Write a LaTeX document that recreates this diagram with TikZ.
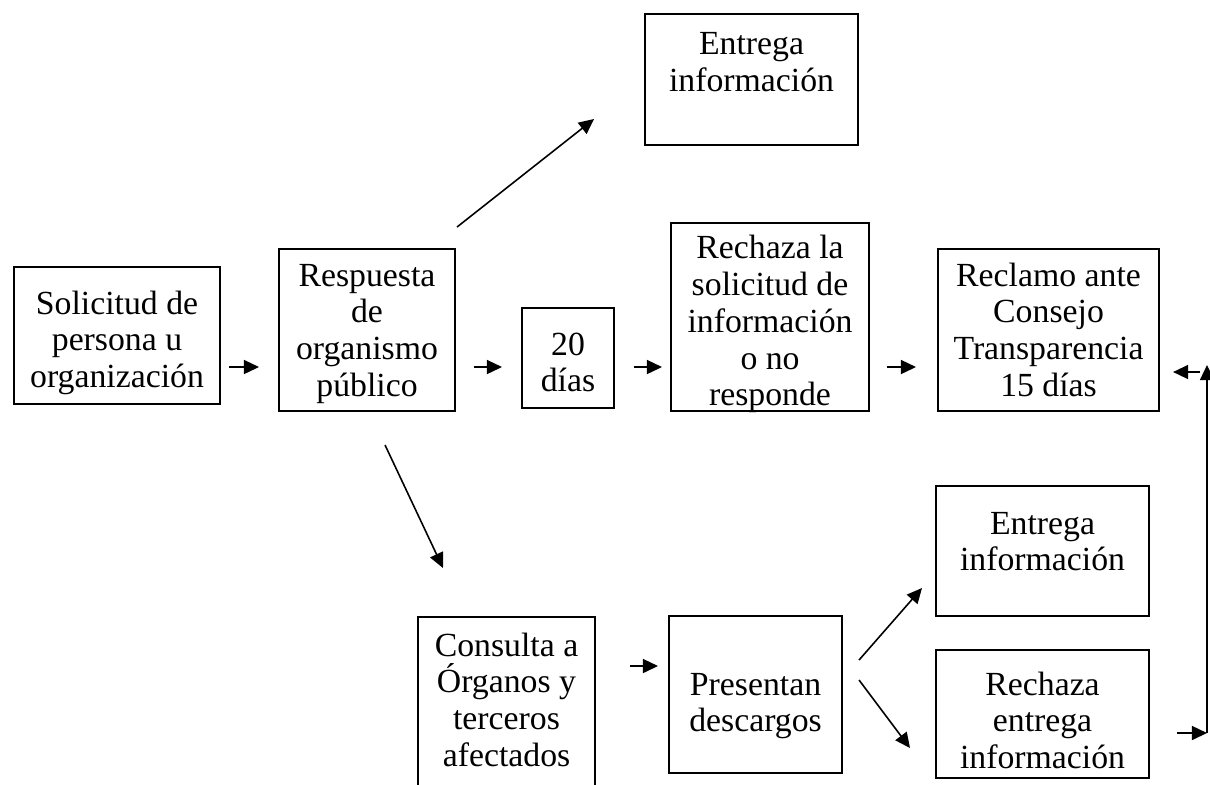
\documentclass[tikz,border=0pt]{standalone}
\usepackage{fontspec}
\setmainfont{Liberation Serif}
\usepackage{tikz}
\usetikzlibrary{arrows.meta}
\usetikzlibrary{positioning}

% texto de caja: ancho, alto, base de la primera linea, texto
\newcommand{\caja}[4]{\parbox[t][#2][t]{#1}{\centering\rule{0pt}{#3}#4}}

\begin{document}
\begin{tikzpicture}[x=0.01cm,y=-0.01cm,
  box/.style={draw, line width=0.55pt, inner sep=0pt, anchor=north west,
    font=\fontsize{9.6}{10.45}\selectfont},
  flecha/.style={line width=0.45pt, -{Triangle[length=4.3pt,width=4pt]}}]
\useasboundingbox (0,0) rectangle (1210,784);
% fila central
\node[box] (sol) at (13,266) {\caja{2.06cm}{1.37cm}{0.47cm}{Solicitud de\\persona u\\organización}};
\node[box] (res) at (278,248) {\caja{1.76cm}{1.62cm}{0.37cm}{Respuesta\\de\\organismo\\público}};
\node[box] (veinte) at (521,307) {\caja{0.92cm}{1.00cm}{0.47cm}{20\\días}};
\node[box] (rech) at (670,222) {\caja{1.98cm}{1.88cm}{0.36cm}{Rechaza la\\solicitud de\\información\\o no\\responde}};
\node[box] (recl) at (937,248) {\caja{2.21cm}{1.62cm}{0.37cm}{Reclamo ante\\Consejo\\Transparencia\\15 días}};
% arriba
\node[box] (ent1) at (644,13) {\caja{2.13cm}{1.31cm}{0.41cm}{Entrega\\información}};
% abajo
\node[box] (cons) at (417,616) {\caja{1.77cm}{1.85cm}{0.39cm}{Consulta a\\Órganos y\\terceros\\afectados}};
\node[box] (pres) at (668,615) {\caja{1.73cm}{1.57cm}{0.79cm}{Presentan\\descargos}};
\node[box] (ent2) at (935,485) {\caja{2.13cm}{1.30cm}{0.48cm}{Entrega\\información}};
\node[box] (rech2) at (935,649) {\caja{2.13cm}{1.28cm}{0.45cm}{Rechaza\\entrega\\información}};

\coordinate (fila) at (0,367);
\coordinate (retorno) at (1207,733);

\draw[flecha, shorten <=0.08cm, shorten >=0.19cm] (sol.east |- fila) -- (res.west |- fila);
\draw[flecha, shorten <=0.18cm, shorten >=0.19cm] (res.east |- fila) -- (veinte.west |- fila);
\draw[flecha, shorten <=0.19cm, shorten >=0.08cm] (veinte.east |- fila) -- (rech.west |- fila);
\draw[flecha, shorten <=0.17cm, shorten >=0.21cm] (rech.east |- fila) -- (recl.west |- fila);
\draw[flecha] ([shift={(1,-21)}]res.north east) -- ([shift={(-50,-27)}]ent1.south west);
\draw[flecha] ([shift={(-71,33)}]res.south east) -- ([shift={(26,-48)}]cons.north west);
\draw[flecha, shorten <=0.34cm, shorten >=0.10cm] (cons.east |- 0,666) -- (pres.west |- 0,666);
\draw[flecha] ([shift={(16,45)}]pres.north east) -- ([shift={(-13,103)}]ent2.north west);
\draw[flecha] ([shift={(16,65)}]pres.north east) -- ([shift={(-25,99)}]rech2.north west);
\draw[flecha, shorten <=0.27cm] (rech2.east |- retorno) -- (retorno);
\draw[flecha] (retorno) -- (retorno |- 0,365);
\draw[flecha, shorten <=0.07cm, shorten >=0.13cm] (retorno |- 0,372) -- (recl.east |- 0,372);
\end{tikzpicture}
\end{document}
